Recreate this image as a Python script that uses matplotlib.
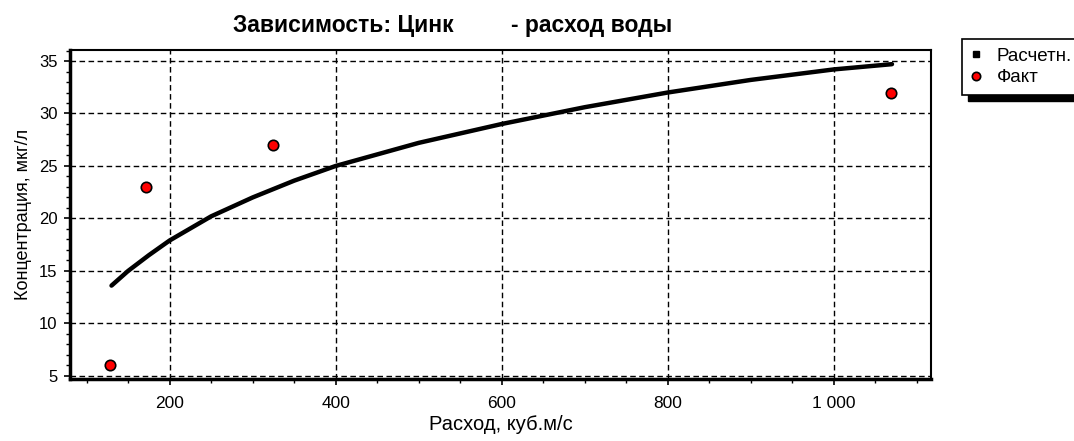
import matplotlib
matplotlib.use("Agg")
import matplotlib.pyplot as plt
from matplotlib.patches import Rectangle
from matplotlib.ticker import MultipleLocator, FuncFormatter

plt.rcParams["font.family"] = ["Liberation Sans", "DejaVu Sans"]

# calculated curve
calc_x = [130, 150, 175, 200, 250, 300, 350, 400, 500, 600, 700, 800, 900, 1000, 1070]
calc_y = [13.6, 15.0, 16.5, 17.9, 20.2, 22.0, 23.6, 25.0, 27.2, 29.0, 30.6, 32.0, 33.2, 34.2, 34.7]

# measured points
fact_x = [128, 172, 325, 1069]
fact_y = [6, 23, 27, 32]

fig = plt.figure(figsize=(10.74, 4.41), dpi=100)
ax = fig.add_axes([70 / 1074, 1 - 379 / 441, 861 / 1074, 329 / 441])

ax.plot(calc_x, calc_y, color="black", lw=3.2, solid_capstyle="round",
        label="Расчетн.", zorder=3)
ax.plot(fact_x, fact_y, ls="none", marker="o", ms=7.5, mfc="red", mec="black",
        mew=1.2, label="Факт", zorder=4)

ax.set_xlim(80, 1117)
ax.set_ylim(4.7, 36.05)
ax.xaxis.set_major_locator(MultipleLocator(200))
ax.xaxis.set_minor_locator(MultipleLocator(50))
ax.yaxis.set_major_locator(MultipleLocator(5))
ax.yaxis.set_minor_locator(MultipleLocator(1))
ax.xaxis.set_major_formatter(FuncFormatter(lambda v, p: f"{int(v):,}".replace(",", " ")))

ax.grid(True, which="major", color="black", ls=(0, (4, 2.5)), lw=1)
ax.tick_params(which="major", direction="out", length=4, width=1.2, labelsize=12)
ax.tick_params(axis="x", which="major", pad=8, labelsize=12.5)
ax.tick_params(axis="y", which="major", pad=5)
ax.tick_params(which="minor", direction="out", length=3, width=1)

for side in ("left", "bottom"):
    ax.spines[side].set_linewidth(2.5)
for side in ("top", "right"):
    ax.spines[side].set_linewidth(1.5)

ax.set_xlabel("Расход, куб.м/с", fontsize=14.5, labelpad=3)
ax.set_ylabel("Концентрация, мкг/л", fontsize=13, labelpad=5)
fig.text(233 / 1074, 1 - 32 / 441, "Зависимость: Цинк         - расход воды",
         fontsize=16.5, fontweight="bold", ha="left", va="baseline")

handles, labels = ax.get_legend_handles_labels()
leg = fig.legend(handles, labels, loc="upper left",
                 bbox_to_anchor=(962 / 1074, 1 - 39 / 441),
                 fontsize=13.5, frameon=True, fancybox=False, shadow=False,
                 facecolor="white", framealpha=1, edgecolor="black",
                 handlelength=0.6, handletextpad=0.8, borderpad=0.45,
                 labelspacing=0.25, markerscale=0.8, borderaxespad=0)
leg.get_frame().set_linewidth(1.2)
leg.legend_handles[0].set_linestyle("none")
leg.legend_handles[0].set_marker("s")
leg.legend_handles[0].set_markersize(4)
leg.legend_handles[0].set_markerfacecolor("black")
leg.set_zorder(5)

# hard shadow under the legend box
fig.canvas.draw()
bb = leg.get_window_extent().transformed(fig.transFigure.inverted())
fig.patches.append(Rectangle((bb.x0 + 6 / 1074, bb.y0 - 6 / 441), bb.width, bb.height,
                             transform=fig.transFigure, color="black", zorder=1))

fig.savefig("out.png", dpi=100)
